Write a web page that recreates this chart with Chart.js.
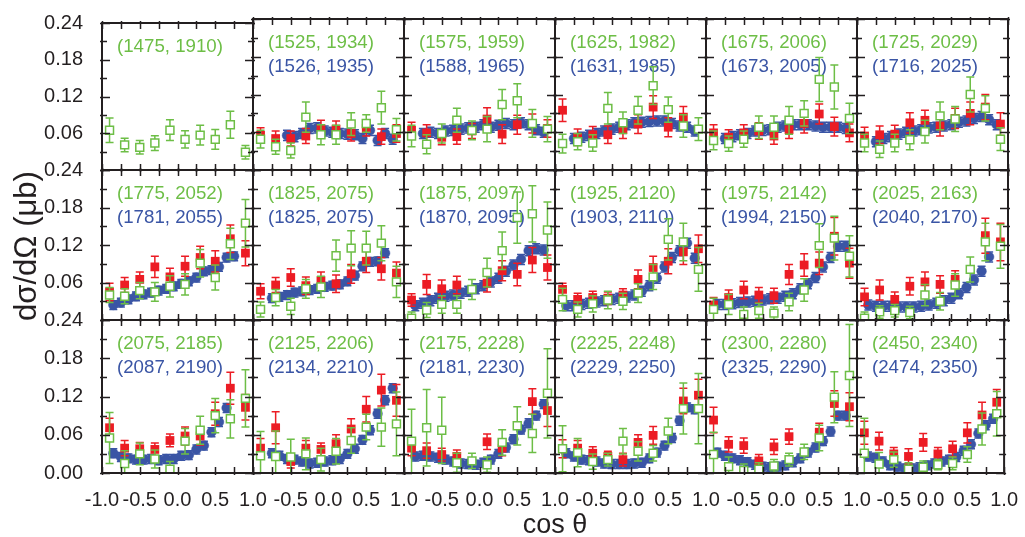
<!DOCTYPE html>
<html>
<head>
<meta charset="utf-8">
<script src="https://cdn.jsdelivr.net/npm/chart.js@4.4.0/dist/chart.umd.min.js"></script>
<style>
  body { margin: 0; background: #fff; }
  #wrap { position: relative; width: 1025px; height: 537px; }
  #wrap canvas { position: absolute; left: 0; top: 0; }
</style>
</head>
<body>
<div id="wrap"></div>
<script>
// energies shown in each panel (green = first set, blue = second set)
const greenLabels = ['(1475, 1910)', '(1525, 1934)', '(1575, 1959)', '(1625, 1982)', '(1675, 2006)', '(1725, 2029)',
  '(1775, 2052)', '(1825, 2075)', '(1875, 2097)', '(1925, 2120)', '(1975, 2142)', '(2025, 2163)',
  '(2075, 2185)', '(2125, 2206)', '(2175, 2228)', '(2225, 2248)', '(2300, 2280)', '(2450, 2340)'];
const blueLabels = ['', '(1526, 1935)', '(1588, 1965)', '(1631, 1985)', '(1673, 2005)', '(1716, 2025)',
  '(1781, 2055)', '(1825, 2075)', '(1870, 2095)', '(1903, 2110)', '(1994, 2150)', '(2040, 2170)',
  '(2087, 2190)', '(2134, 2210)', '(2181, 2230)', '(2229, 2250)', '(2325, 2290)', '(2474, 2350)'];

// cos theta bins
const binCos = [-0.9, -0.7, -0.5, -0.3, -0.1, 0.1, 0.3, 0.5, 0.7, 0.9];
const blueCos = [-0.85, -0.75, -0.65, -0.55, -0.45, -0.35, -0.25, -0.15, -0.05,
  0.05, 0.15, 0.25, 0.35, 0.45, 0.55, 0.65, 0.75, 0.85];

// green open squares
const greenVal = [
  [0.065, 0.041, 0.037, 0.044, 0.065, 0.050, 0.057, 0.050, 0.074, 0.029],
  [0.049, 0.037, 0.031, 0.084, 0.056, 0.056, 0.073, 0.074, 0.099, 0.064],
  [0.054, 0.041, 0.058, 0.079, 0.063, 0.065, 0.104, 0.110, 0.074, 0.065],
  [0.042, 0.045, 0.043, 0.098, 0.075, 0.095, 0.134, 0.096, 0.070, 0.065],
  [0.047, 0.042, 0.049, 0.068, 0.068, 0.079, 0.090, 0.144, 0.132, 0.082],
  [0.043, 0.033, 0.043, 0.048, 0.061, 0.086, 0.081, 0.120, 0.098, 0.049],
  [0.040, 0.038, 0.047, 0.045, 0.054, 0.057, 0.091, 0.068, 0.122, 0.155],
  [0.017, 0.036, 0.022, 0.050, 0.053, 0.103, 0.115, 0.115, 0.123, 0.061],
  [0.003, 0.016, 0.025, 0.025, 0.049, 0.076, 0.111, 0.164, 0.170, 0.144],
  [0.033, 0.017, 0.026, 0.032, 0.030, 0.043, 0.069, 0.129, 0.125, 0.081],
  [0.017, 0.025, 0.009, 0.015, 0.011, 0.029, 0.048, 0.119, 0.131, 0.102],
  [0.003, 0.013, 0.015, 0.012, 0.040, 0.030, 0.056, 0.081, 0.125, 0.118],
  [0.055, 0.015, 0.030, 0.022, 0.006, 0.050, 0.067, 0.090, 0.085, 0.117],
  [0.027, 0.026, 0.025, 0.030, 0.021, 0.034, 0.051, 0.072, 0.072, 0.077],
  [0.050, 0.071, 0.067, 0.016, 0.019, 0.013, 0.048, 0.074, 0.062, 0.125],
  [0.038, 0.032, 0.018, 0.021, 0.050, 0.034, 0.031, 0.066, 0.101, 0.101],
  [0.029, 0.010, 0.004, 0.006, 0.011, 0.021, 0.033, 0.055, 0.119, 0.153],
  [0.031, 0.014, 0.021, 0.006, 0.009, 0.013, 0.015, 0.029, 0.069, 0.093]
];
const greenErr = [
  [0.020, 0.011, 0.011, 0.012, 0.017, 0.014, 0.016, 0.016, 0.022, 0.011],
  [0.014, 0.012, 0.012, 0.024, 0.016, 0.015, 0.018, 0.014, 0.026, 0.018],
  [0.017, 0.015, 0.015, 0.019, 0.015, 0.020, 0.024, 0.027, 0.022, 0.020],
  [0.015, 0.013, 0.013, 0.025, 0.017, 0.022, 0.030, 0.020, 0.018, 0.018],
  [0.015, 0.012, 0.013, 0.018, 0.018, 0.022, 0.020, 0.035, 0.035, 0.024],
  [0.014, 0.013, 0.014, 0.016, 0.018, 0.022, 0.020, 0.028, 0.020, 0.018],
  [0.012, 0.012, 0.013, 0.015, 0.017, 0.017, 0.022, 0.020, 0.025, 0.038],
  [0.012, 0.013, 0.013, 0.015, 0.017, 0.025, 0.028, 0.027, 0.028, 0.025],
  [0.010, 0.012, 0.014, 0.014, 0.016, 0.023, 0.030, 0.041, 0.045, 0.045],
  [0.018, 0.012, 0.013, 0.014, 0.013, 0.015, 0.020, 0.033, 0.030, 0.035],
  [0.018, 0.016, 0.012, 0.012, 0.010, 0.014, 0.018, 0.035, 0.035, 0.033],
  [0.010, 0.010, 0.010, 0.010, 0.017, 0.014, 0.018, 0.020, 0.030, 0.035],
  [0.040, 0.020, 0.017, 0.014, 0.012, 0.020, 0.022, 0.027, 0.030, 0.045],
  [0.038, 0.040, 0.028, 0.025, 0.018, 0.020, 0.020, 0.020, 0.030, 0.050],
  [0.050, 0.060, 0.052, 0.015, 0.012, 0.012, 0.020, 0.030, 0.030, 0.070],
  [0.036, 0.022, 0.012, 0.010, 0.020, 0.015, 0.012, 0.020, 0.040, 0.055],
  [0.035, 0.015, 0.010, 0.010, 0.010, 0.010, 0.012, 0.020, 0.040, 0.080],
  [0.055, 0.018, 0.012, 0.010, 0.010, 0.008, 0.010, 0.012, 0.025, 0.035]
];

// red filled squares
const redVal = [
  [null, null, null, null, null, null, null, null, null, null],
  [0.055, 0.050, 0.050, 0.054, 0.066, 0.065, 0.058, 0.066, 0.053, 0.058],
  [0.063, 0.059, 0.052, 0.053, 0.062, 0.081, 0.057, 0.072, 0.074, 0.066],
  [0.095, 0.052, 0.056, 0.056, 0.064, 0.073, 0.100, 0.068, 0.084, null],
  [0.059, 0.052, 0.059, 0.062, 0.054, 0.064, 0.074, 0.089, 0.069, 0.059],
  [0.054, 0.056, 0.057, 0.075, 0.079, 0.070, 0.082, 0.090, 0.100, 0.073],
  [0.045, 0.056, 0.065, 0.085, 0.069, 0.086, 0.100, 0.094, 0.130, 0.107],
  [0.046, 0.056, 0.068, 0.055, 0.063, 0.058, 0.074, 0.094, 0.082, 0.075],
  [0.032, 0.057, 0.050, 0.056, null, 0.059, 0.079, 0.073, 0.096, 0.084],
  [0.049, 0.033, 0.036, 0.035, 0.040, 0.065, 0.084, 0.094, 0.109, 0.114],
  [0.024, 0.036, 0.048, 0.040, 0.039, 0.073, 0.088, 0.091, 0.134, 0.091],
  [0.037, 0.048, 0.033, 0.054, 0.061, 0.057, 0.065, null, 0.135, 0.125],
  [0.071, 0.039, 0.038, 0.037, 0.051, 0.058, 0.058, 0.093, 0.133, 0.103],
  [0.039, 0.071, 0.018, 0.039, 0.037, 0.046, 0.069, 0.100, 0.130, 0.114],
  [0.039, 0.035, 0.029, 0.026, null, 0.049, 0.039, null, 0.112, 0.098],
  [0.038, 0.039, 0.031, 0.026, 0.021, 0.048, 0.059, null, 0.113, 0.122],
  [0.083, 0.045, 0.043, 0.019, 0.041, 0.057, null, 0.064, 0.109, 0.104],
  [0.063, 0.050, 0.030, 0.026, 0.048, 0.030, 0.038, 0.063, 0.091, 0.111]
];
const redErr = [
  [null, null, null, null, null, null, null, null, null, null],
  [0.012, 0.012, 0.012, 0.012, 0.013, 0.013, 0.012, 0.012, 0.012, 0.014],
  [0.013, 0.013, 0.012, 0.012, 0.012, 0.018, 0.015, 0.015, 0.015, 0.014],
  [0.018, 0.013, 0.013, 0.014, 0.014, 0.015, 0.018, 0.015, 0.017, null],
  [0.013, 0.012, 0.013, 0.013, 0.013, 0.014, 0.015, 0.016, 0.015, 0.014],
  [0.014, 0.014, 0.014, 0.016, 0.016, 0.016, 0.016, 0.018, 0.020, 0.018],
  [0.014, 0.012, 0.012, 0.017, 0.014, 0.016, 0.018, 0.017, 0.022, 0.020],
  [0.012, 0.012, 0.014, 0.014, 0.014, 0.014, 0.015, 0.018, 0.018, 0.018],
  [0.010, 0.016, 0.014, 0.014, null, 0.014, 0.016, 0.018, 0.020, 0.020],
  [0.010, 0.010, 0.010, 0.010, 0.010, 0.015, 0.018, 0.020, 0.020, 0.022],
  [0.012, 0.012, 0.014, 0.012, 0.012, 0.016, 0.018, 0.018, 0.030, 0.024],
  [0.014, 0.016, 0.012, 0.014, 0.016, 0.014, 0.014, null, 0.028, 0.030],
  [0.015, 0.012, 0.010, 0.010, 0.010, 0.014, 0.014, 0.018, 0.025, 0.020],
  [0.015, 0.025, 0.010, 0.012, 0.010, 0.014, 0.016, 0.020, 0.025, 0.025],
  [0.012, 0.012, 0.010, 0.010, null, 0.012, 0.012, null, 0.020, 0.025],
  [0.014, 0.012, 0.010, 0.008, 0.010, 0.012, 0.014, null, 0.020, 0.025],
  [0.020, 0.012, 0.012, 0.010, 0.012, 0.012, null, 0.014, 0.020, 0.022],
  [0.018, 0.014, 0.010, 0.012, 0.014, 0.010, 0.012, 0.016, 0.020, 0.020]
];

// blue filled circles
const blueVal = [
  [null, null, null, null, null, null, null, null, null, null, null, null, null, null, null, null, null, null],
  [null, null, null, 0.055, 0.053, 0.058, 0.066, 0.067, 0.062, 0.060, 0.058, 0.057, 0.056, 0.050, 0.063, 0.047, 0.058, 0.049],
  [null, 0.058, 0.060, 0.058, 0.062, 0.063, 0.065, 0.067, 0.068, 0.072, 0.068, 0.071, 0.074, 0.072, 0.075, 0.072, 0.064, 0.060],
  [null, 0.050, 0.052, 0.055, 0.058, 0.062, 0.065, 0.068, 0.072, 0.075, 0.076, 0.077, 0.078, 0.078, 0.074, 0.070, 0.068, 0.062],
  [null, 0.050, 0.053, 0.056, 0.058, 0.062, 0.063, 0.064, 0.068, 0.070, 0.072, 0.072, 0.072, 0.070, 0.068, 0.068, 0.068, 0.066],
  [null, 0.045, 0.050, 0.053, 0.057, 0.060, 0.062, 0.064, 0.067, 0.068, 0.070, 0.072, 0.076, 0.078, 0.082, 0.085, 0.080, 0.072],
  [0.024, 0.028, 0.033, 0.038, 0.041, 0.044, 0.047, 0.050, 0.054, 0.058, 0.062, 0.068, 0.078, 0.080, 0.085, 0.100, 0.102, null],
  [null, 0.035, 0.037, 0.040, 0.044, 0.046, 0.048, 0.050, 0.053, 0.055, 0.057, 0.062, 0.071, 0.086, 0.093, 0.094, 0.107, null],
  [0.023, 0.027, 0.031, 0.035, 0.038, 0.040, 0.043, 0.046, 0.050, 0.055, 0.061, 0.067, 0.078, 0.088, 0.097, 0.111, 0.114, 0.112],
  [0.023, 0.023, 0.025, 0.027, 0.029, 0.031, 0.033, 0.035, 0.037, 0.040, 0.046, 0.055, 0.067, 0.085, 0.100, 0.111, 0.123, 0.099],
  [0.025, 0.025, 0.026, 0.028, 0.029, 0.030, 0.032, 0.034, 0.035, 0.038, 0.042, 0.050, 0.058, 0.068, 0.085, 0.100, 0.118, 0.118],
  [0.024, 0.022, 0.022, 0.022, 0.021, 0.021, 0.021, 0.022, 0.024, 0.027, 0.031, 0.035, 0.042, 0.052, 0.064, 0.078, 0.101, null],
  [0.031, 0.025, 0.023, 0.021, 0.021, 0.022, 0.020, 0.022, 0.022, 0.027, 0.028, 0.037, 0.043, 0.064, 0.080, 0.102, null, null],
  [null, 0.031, 0.027, 0.022, 0.021, 0.018, 0.015, 0.016, 0.018, 0.020, 0.022, 0.030, 0.038, 0.052, 0.067, 0.093, 0.114, 0.133],
  [0.026, 0.027, 0.026, 0.024, 0.021, 0.018, 0.015, 0.014, 0.013, 0.016, 0.021, 0.030, 0.040, 0.053, 0.068, 0.078, 0.090, 0.108],
  [0.031, 0.026, 0.021, 0.020, 0.018, 0.015, 0.014, 0.014, 0.014, 0.015, 0.016, 0.023, 0.032, 0.043, 0.055, 0.082, 0.103, 0.100],
  [0.032, 0.027, 0.023, 0.020, 0.017, 0.013, 0.010, 0.009, 0.010, 0.012, 0.017, 0.023, 0.032, 0.040, 0.050, 0.065, 0.090, 0.090],
  [0.026, 0.024, 0.018, 0.012, 0.010, 0.007, 0.007, 0.009, 0.012, 0.015, 0.018, 0.021, 0.025, 0.035, 0.045, 0.062, 0.075, 0.085]
];
const blueErr = [0, 0.008, 0.008, 0.008, 0.008, 0.008, 0.007, 0.007, 0.008,
  0.008, 0.008, 0.008, 0.007, 0.007, 0.007, 0.007, 0.007, 0.007];

const GREEN = '#6dbe46';
const RED = '#ec1c24';
const BLUE = '#3a55a5';
const INK = '#231f20';

Chart.defaults.font.family = "'Liberation Sans', Arial, Helvetica, sans-serif";
Chart.defaults.color = INK;

const colEdges = [102, 253, 404, 555, 706, 857, 1008];
const rowEdges = [19, 170, 320, 473];
const W = 1025, H = 537;
const wrap = document.getElementById('wrap');

function points(xs, ys, es) {
  const out = [];
  xs.forEach((x, i) => {
    if (ys[i] == null) return;
    out.push({ x: x, y: ys[i], e: Array.isArray(es) ? es[i] : es });
  });
  return out;
}

// error bars, drawn under each dataset's own markers
const errorBars = {
  id: 'errorBars',
  beforeDatasetDraw(chart, args) {
    const ds = chart.data.datasets[args.index];
    const { ctx, chartArea: a } = chart;
    const xs = chart.scales.x, ys = chart.scales.y;
    ctx.save();
    ctx.beginPath();
    ctx.rect(a.left, a.top, a.right - a.left, a.bottom - a.top);
    ctx.clip();
    ctx.strokeStyle = ds.errColor;
    ctx.lineWidth = 1.5;
    ds.data.forEach(d => {
      if (!d.e) return;
      const px = xs.getPixelForValue(d.x);
      const lo = ys.getPixelForValue(d.y - d.e);
      const hi = ys.getPixelForValue(d.y + d.e);
      ctx.beginPath();
      ctx.moveTo(px, lo); ctx.lineTo(px, hi);
      ctx.moveTo(px - 4, lo); ctx.lineTo(px + 4, lo);
      ctx.moveTo(px - 4, hi); ctx.lineTo(px + 4, hi);
      ctx.stroke();
    });
    ctx.restore();
  }
};

// panel frame with inward ticks, and the energy labels
const panelFrame = {
  id: 'panelFrame',
  beforeDatasetsDraw(chart, args, opts) {
    const { ctx, chartArea: a } = chart;
    ctx.save();
    ctx.font = "18.7px 'Liberation Sans', Arial, sans-serif";
    ctx.textBaseline = 'middle';
    ctx.textAlign = 'left';
    ctx.fillStyle = GREEN;
    ctx.fillText(opts.green, a.left + 15, a.top + 24);
    if (opts.blue) {
      ctx.fillStyle = BLUE;
      ctx.fillText(opts.blue, a.left + 15, a.top + 48);
    }
    ctx.restore();
  },
  afterDraw(chart) {
    const { ctx, chartArea: a } = chart;
    const xs = chart.scales.x, ys = chart.scales.y;
    ctx.save();
    ctx.strokeStyle = INK;
    ctx.lineWidth = 1.5;
    ctx.beginPath();
    for (let k = 0; k <= 8; k++) {
      const py = Math.round(ys.getPixelForValue(k * 0.03)) + 0.5;
      const len = k % 2 === 0 ? 8 : 5;
      ctx.moveTo(a.left - 2, py); ctx.lineTo(a.left + len, py);
      ctx.moveTo(a.right + 2, py); ctx.lineTo(a.right - len, py);
    }
    for (let k = 0; k <= 8; k++) {
      const px = Math.round(xs.getPixelForValue(-1 + k * 0.25)) + 0.5;
      ctx.moveTo(px, a.top - 2); ctx.lineTo(px, a.top + 6);
      ctx.moveTo(px, a.bottom + 2); ctx.lineTo(px, a.bottom - 6);
    }
    ctx.stroke();
    ctx.lineWidth = 2;
    ctx.strokeRect(a.left, a.top, a.right - a.left, a.bottom - a.top);
    ctx.restore();
  }
};

function makePanel(p) {
  const row = Math.floor(p / 6), col = p % 6;
  const left = colEdges[col], right = colEdges[col + 1];
  const top = rowEdges[row], bottom = rowEdges[row + 1];
  const showY = col === 0, showX = row === 2;
  const canvas = document.createElement('canvas');
  canvas.width = W; canvas.height = H;
  wrap.appendChild(canvas);

  const datasets = [
    {
      label: 'green', errColor: GREEN, clip: 0,
      data: points(binCos, greenVal[p], greenErr[p]),
      pointStyle: 'rect', pointRadius: 5.6, pointBorderWidth: 1.5,
      pointBackgroundColor: '#ffffff', pointBorderColor: GREEN
    },
    {
      label: 'red', errColor: RED, clip: 0,
      data: points(binCos, redVal[p], redErr[p]),
      pointStyle: 'rect', pointRadius: 6.2, pointBorderWidth: 0,
      pointBackgroundColor: RED, pointBorderColor: RED
    },
    {
      label: 'blue', errColor: BLUE, clip: 0,
      data: points(blueCos, blueVal[p], blueErr[p]),
      pointStyle: 'circle', pointRadius: 4.8, pointBorderWidth: 0.5,
      pointBackgroundColor: BLUE, pointBorderColor: BLUE
    }
  ];

  new Chart(canvas, {
    type: 'scatter',
    data: { datasets },
    plugins: [errorBars, panelFrame],
    options: {
      responsive: false,
      animation: false,
      events: [],
      layout: { padding: { left: showY ? 0 : left, top: top, right: W - right, bottom: showX ? 0 : H - bottom } },
      plugins: {
        legend: { display: false },
        tooltip: { enabled: false },
        panelFrame: { green: greenLabels[p], blue: blueLabels[p] }
      },
      scales: {
        x: {
          type: 'linear', min: -1, max: 1, display: showX,
          afterFit(s) { if (showX) s.height = H - bottom; },
          grid: { display: false }, border: { display: false },
          ticks: {
            stepSize: 0.25, autoSkip: false, maxRotation: 0, padding: 7,
            font: { size: 20 }, color: INK,
            callback(v) {
              const k = Math.round(v * 4);
              if (k % 2 !== 0) return '';
              if (k === -4 && col !== 0) return '';
              return (k / 4).toFixed(1);
            }
          }
        },
        y: {
          type: 'linear', min: 0, max: 0.24, display: showY,
          afterFit(s) { if (showY) s.width = left; },
          grid: { display: false }, border: { display: false },
          ticks: {
            stepSize: 0.03, autoSkip: false, padding: 11,
            font: { size: 20 }, color: INK,
            callback(v) {
              const k = Math.round(v * 100);
              if (k % 6 !== 0) return '';
              if (k === 0) return row === 2 ? '0.00' : '';
              return (k / 100).toFixed(2);
            }
          }
        }
      }
    }
  });
}

for (let p = 0; p < 18; p++) makePanel(p);

// overlay chart carrying the shared axis titles
const titleCanvas = document.createElement('canvas');
titleCanvas.width = W; titleCanvas.height = H;
wrap.appendChild(titleCanvas);
new Chart(titleCanvas, {
  type: 'scatter',
  data: { datasets: [] },
  options: {
    responsive: false, animation: false, events: [],
    layout: { padding: { top: 19, right: W - 1008 } },
    plugins: { legend: { display: false }, tooltip: { enabled: false } },
    scales: {
      x: {
        type: 'linear', min: -1, max: 11,
        afterFit(s) { s.height = H - 473; },
        grid: { display: false }, border: { display: false }, ticks: { display: false },
        title: { display: true, text: 'cos θ', color: INK, padding: 0, font: { size: 27, lineHeight: 0.85 } }
      },
      y: {
        type: 'linear', min: 0, max: 0.72,
        afterFit(s) { s.width = 102; },
        grid: { display: false }, border: { display: false }, ticks: { display: false },
        title: { display: true, text: 'dσ/dΩ (μb)', color: INK, padding: { top: 9 }, font: { size: 31 } }
      }
    }
  }
});
</script>
</body>
</html>
